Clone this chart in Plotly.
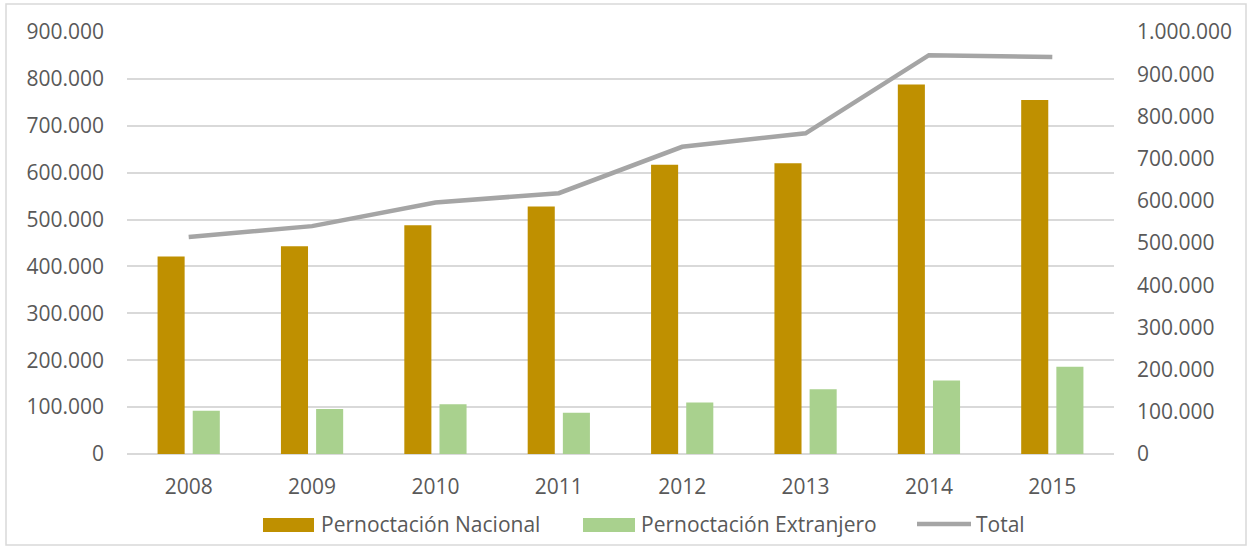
import plotly.graph_objects as go

# Overnight stays per year
years = ["2008", "2009", "2010", "2011", "2012", "2013", "2014", "2015"]
nacional = [421000, 443000, 488000, 528000, 617000, 620000, 788000, 755000]
extranjero = [92000, 96000, 106000, 88000, 110000, 138000, 157000, 186000]
total = [514000, 540000, 596000, 618000, 728000, 760000, 945000, 941000]

left_ticks = list(range(0, 900001, 100000))
right_ticks = list(range(0, 1000001, 100000))

C_NAC = "#BF9000"
C_EXT = "#A9D18E"
C_TOT = "#A5A5A5"
C_TXT = "#595959"
C_GRID = "#D9D9D9"
FONT = "Open Sans"
FS = 21

W, H = 1252, 548
ML, MR, MT, MB = 127, 138, 32, 94
PW, PH = W - ML - MR, H - MT - MB


def px(x):
    return (x - ML) / PW


def py(y):
    return (H - MB - y) / PH


fig = go.Figure()
fig.add_trace(go.Bar(x=years, y=nacional, name="Pernoctación Nacional",
                     marker=dict(color=C_NAC, line=dict(width=0)), showlegend=False))
fig.add_trace(go.Bar(x=years, y=extranjero, name="Pernoctación Extranjero",
                     marker=dict(color=C_EXT, line=dict(width=0)), showlegend=False))
fig.add_trace(go.Scatter(x=years, y=total, name="Total", yaxis="y2", mode="lines",
                         line=dict(color=C_TOT, width=4.5), showlegend=False))

shapes = [
    # outer frame
    dict(type="rect", xref="paper", yref="paper", x0=px(6), x1=px(1246), y0=py(4), y1=py(545),
         line=dict(color=C_GRID, width=1.5), fillcolor="rgba(0,0,0,0)", layer="below"),
    # legend swatches
    dict(type="rect", xref="paper", yref="paper", x0=px(263), x1=px(314), y0=py(518), y1=py(532),
         line=dict(width=0), fillcolor=C_NAC),
    dict(type="rect", xref="paper", yref="paper", x0=px(583), x1=px(635), y0=py(518), y1=py(532),
         line=dict(width=0), fillcolor=C_EXT),
    dict(type="line", xref="paper", yref="paper", x0=px(917), x1=px(971), y0=py(524), y1=py(524),
         line=dict(color=C_TOT, width=4.5)),
]

annotations = [
    dict(text="Pernoctación Nacional", x=px(319), y=py(524), xref="paper", yref="paper",
         xanchor="left", yanchor="middle", showarrow=False),
    dict(text="Pernoctación Extranjero", x=px(639), y=py(524), xref="paper", yref="paper",
         xanchor="left", yanchor="middle", showarrow=False),
    dict(text="Total", x=px(974), y=py(524), xref="paper", yref="paper",
         xanchor="left", yanchor="middle", showarrow=False),
]

fig.update_layout(
    width=W, height=H,
    margin=dict(l=ML, r=MR, t=MT, b=MB, autoexpand=False),
    paper_bgcolor="white", plot_bgcolor="white",
    separators=",.",
    font=dict(family=FONT, size=FS, color=C_TXT),
    barmode="group", bargap=0.43, bargroupgap=0.23,
    xaxis=dict(type="category", showgrid=False, showline=False, zeroline=False,
               ticks="", ticklabelstandoff=18, tickfont=dict(size=FS, color=C_TXT)),
    yaxis=dict(range=[0, 900000], tickvals=left_ticks, tickformat=",d",
               showgrid=True, gridcolor=C_GRID, gridwidth=1.5,
               zeroline=True, zerolinecolor=C_GRID, zerolinewidth=1.5,
               showline=False, ticks="", ticklabelstandoff=22,
               tickfont=dict(size=FS, color=C_TXT)),
    yaxis2=dict(range=[0, 1000000], tickvals=right_ticks, tickformat=",d",
                overlaying="y", side="right", showgrid=False, zeroline=False,
                showline=False, ticks="", ticklabelstandoff=22,
                tickfont=dict(size=FS, color=C_TXT)),
    shapes=shapes,
    annotations=annotations,
)

fig.write_html("out.html")
